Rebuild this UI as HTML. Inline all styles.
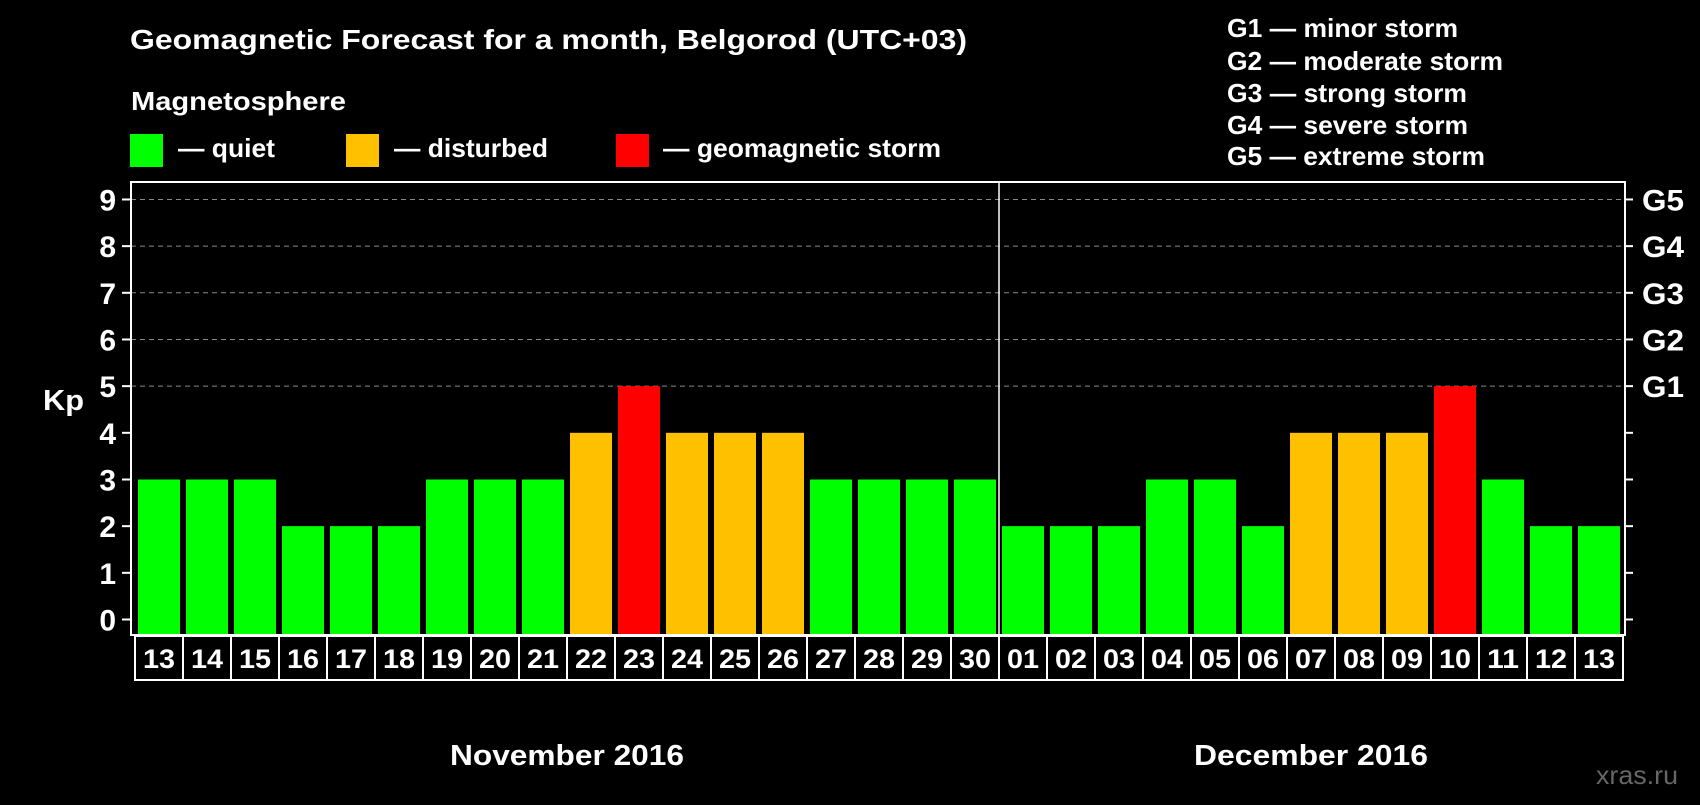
<!DOCTYPE html>
<html><head><meta charset="utf-8"><style>
body{margin:0;background:#000;width:1700px;height:800px;overflow:hidden;font-family:"Liberation Sans",Arial,sans-serif;font-weight:bold;color:#fff}
</style></head><body>
<svg id="c" width="1700" height="800" xmlns="http://www.w3.org/2000/svg" font-family="Liberation Sans, Arial, sans-serif" font-weight="bold" fill="#fff">
<text x="130" y="49" font-size="28" textLength="837" lengthAdjust="spacingAndGlyphs">Geomagnetic Forecast for a month, Belgorod (UTC+03)</text>
<text x="131" y="110" font-size="26" textLength="215" lengthAdjust="spacingAndGlyphs">Magnetosphere</text>
<rect x="130" y="134" width="33" height="33" fill="#00ff00"/>
<text x="178" y="157" font-size="26" textLength="97" lengthAdjust="spacingAndGlyphs">— quiet</text>
<rect x="346" y="134" width="33" height="33" fill="#ffc000"/>
<text x="394" y="157" font-size="26" textLength="154" lengthAdjust="spacingAndGlyphs">— disturbed</text>
<rect x="616" y="134" width="33" height="33" fill="#ff0000"/>
<text x="663" y="157" font-size="26" textLength="278" lengthAdjust="spacingAndGlyphs">— geomagnetic storm</text>
<g font-size="26">
<text x="1227" y="37" textLength="231" lengthAdjust="spacingAndGlyphs">G1 — minor storm</text>
<text x="1227" y="70" textLength="276" lengthAdjust="spacingAndGlyphs">G2 — moderate storm</text>
<text x="1227" y="102" textLength="240" lengthAdjust="spacingAndGlyphs">G3 — strong storm</text>
<text x="1227" y="134" textLength="241" lengthAdjust="spacingAndGlyphs">G4 — severe storm</text>
<text x="1227" y="165" textLength="258" lengthAdjust="spacingAndGlyphs">G5 — extreme storm</text>
</g>
<text x="43" y="410" font-size="29" textLength="41" lengthAdjust="spacingAndGlyphs">Kp</text>
<g id="grid"></g>
<g id="bars"></g>
<rect x="131" y="182" width="1494" height="453" fill="none" stroke="#fff" stroke-width="2"/>
<line x1="999" y1="182" x2="999" y2="635" stroke="#fff" stroke-width="1.5"/>
<g id="axes"></g>
<text x="567" y="765" font-size="29" text-anchor="middle" textLength="234" lengthAdjust="spacingAndGlyphs">November 2016</text>
<text x="1311" y="765" font-size="29" text-anchor="middle" textLength="234" lengthAdjust="spacingAndGlyphs">December 2016</text>
<text x="1678" y="784" font-size="26" text-anchor="end" fill="#666" font-weight="normal" textLength="82" lengthAdjust="spacingAndGlyphs">xras.ru</text>
</svg>
<script>
const days=["13","14","15","16","17","18","19","20","21","22","23","24","25","26","27","28","29","30","01","02","03","04","05","06","07","08","09","10","11","12","13"];
const kp=[3,3,3,2,2,2,3,3,3,4,5,4,4,4,3,3,3,3,2,2,2,3,3,2,4,4,4,5,3,2,2];
const yTicks=[0,1,2,3,4,5,6,7,8,9];
const gLabels=["G1","G2","G3","G4","G5"];
const NS="http://www.w3.org/2000/svg";
const y=v=>619.5-v*46.67;
const x=i=>138+i*48;
function mk(t,a,p){const e=document.createElementNS(NS,t);for(const k in a)e.setAttribute(k,a[k]);p.appendChild(e);return e;}
const grid=document.getElementById('grid'),bars=document.getElementById('bars'),axes=document.getElementById('axes');
yTicks.forEach(v=>{
  if(v>=5){const l=mk('line',{x1:131,x2:1625,y1:y(v),y2:y(v),stroke:'#888','stroke-dasharray':'5,4','stroke-width':1},grid);
  
  }
  const t1=mk('line',{x1:122,x2:131,y1:y(v),y2:y(v),stroke:'#fff','stroke-width':2},axes);
  
  
  const t2=mk('line',{x1:1625,x2:1633,y1:y(v),y2:y(v),stroke:'#fff','stroke-width':2},axes);
  
  
  const tx=mk('text',{x:116,y:y(v)+11,'font-size':30,'text-anchor':'end'},axes);tx.textContent=v;
  
  
  if(v>=5){const g=mk('text',{x:1642,y:y(v)+11,'font-size':30,textLength:42,lengthAdjust:'spacingAndGlyphs'},axes);g.textContent=gLabels[v-5];
  
  }
});
kp.forEach((v,i)=>{
  const c=v>=5?'#ff0000':v>=4?'#ffc000':'#00ff00';
  const r=mk('rect',{x:x(i),y:y(v),width:42,height:634-y(v),fill:c},bars);
  
  
  const cell=mk('rect',{x:x(i)-3,y:636,width:48,height:44,fill:'none',stroke:'#fff','stroke-width':2},axes);
  
  
  const t=mk('text',{x:x(i)+21,y:668,'font-size':27,'text-anchor':'middle',textLength:32,lengthAdjust:'spacingAndGlyphs'},axes);t.textContent=days[i];
  
  
});
</script>
</body></html>
